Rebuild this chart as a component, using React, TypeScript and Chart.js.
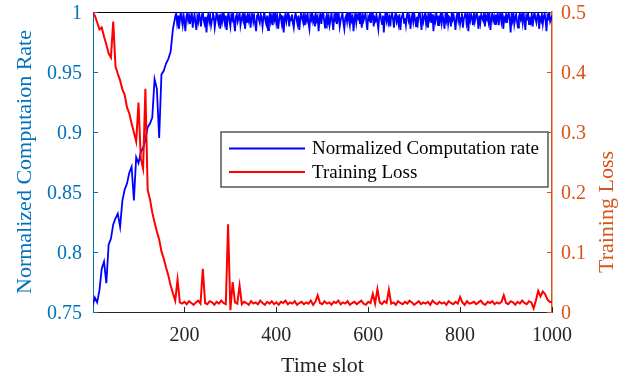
import React, { useEffect, useRef } from "react";
import { Chart, registerables } from "chart.js";

Chart.register(...registerables);

// Rise phase: time slots 0..175 sampled every 5 slots
const EARLY_STEP = 5;
const rateEarly: number[] = [
  0.755, 0.762, 0.758, 0.768, 0.786, 0.792, 0.774, 0.806, 0.811, 0.823,
  0.828, 0.832, 0.821, 0.843, 0.852, 0.857, 0.866, 0.871, 0.843, 0.879,
  0.874, 0.883, 0.887, 0.893, 0.904, 0.907, 0.912, 0.944, 0.936, 0.895,
  0.948, 0.951, 0.957, 0.961, 0.967, 0.986,
];

// Plateau phase: time slots 180..1000 sampled every 2 slots
const PLATEAU_START = 180;
const PLATEAU_STEP = 2;
const ratePlateau: number[] = [
  0.996, 0.999, 0.991, 0.997, 0.986, 0.993, 1.000, 0.994, 0.989, 0.998,
  0.992, 0.984, 0.996, 0.999, 0.993, 0.997, 0.990, 0.995, 1.000, 0.987,
  0.994, 0.998, 0.991, 0.985, 0.996, 0.992, 0.999, 0.994, 0.988, 0.997,
  1.000, 0.993, 0.990, 0.996, 0.983, 0.995, 0.998, 0.992, 0.997, 0.989,
  0.994, 0.999, 0.996, 0.987, 0.993, 1.000, 0.995, 0.991, 0.998, 0.986,
  0.996, 0.992, 0.999, 0.994, 0.990, 0.997, 0.985, 0.995, 1.000, 0.993,
  0.988, 0.997, 0.994, 0.999, 0.991, 0.984, 0.996, 0.998, 0.992, 0.995,
  1.000, 0.989, 0.994, 0.997, 0.993, 0.999, 0.986, 0.995, 0.991, 0.998,
  0.993, 0.997, 0.987, 0.995, 1.000, 0.992, 0.996, 0.990, 0.984, 0.997,
  0.999, 0.994, 0.991, 0.998, 0.995, 0.988, 0.996, 1.000, 0.993, 0.990,
  0.997, 0.985, 0.994, 0.999, 0.992, 0.996, 0.989, 0.998, 0.994, 1.000,
  0.991, 0.996, 0.986, 0.993, 0.998, 0.995, 0.990, 0.997, 0.983, 0.994,
  0.999, 0.992, 0.996, 1.000, 0.988, 0.995, 0.993, 0.998, 0.991, 0.987,
  0.996, 0.999, 0.994, 0.990, 0.997, 0.985, 0.993, 1.000, 0.995, 0.992,
  0.998, 0.989, 0.996, 0.993, 0.999, 0.991, 0.986, 0.997, 0.994, 1.000,
  0.992, 0.995, 0.988, 0.998, 0.993, 0.996, 0.984, 0.994, 0.999, 0.990,
  0.997, 1.000, 0.993, 0.987, 0.995, 0.998, 0.991, 0.996, 0.989, 0.994,
  0.999, 0.992, 0.985, 0.997, 0.994, 1.000, 0.990, 0.995, 0.998, 0.988,
  0.993, 0.996, 0.999, 0.991, 0.986, 0.995, 0.997, 0.992, 1.000, 0.994,
  0.989, 0.998, 0.993, 0.996, 0.984, 0.994, 0.999, 0.991, 0.997, 0.995,
  1.000, 0.990, 0.995, 0.987, 0.998, 0.993, 0.996, 0.999, 0.992, 0.985,
  0.996, 0.994, 0.999, 0.991, 0.997, 1.000, 0.988, 0.995, 0.993, 0.998,
  0.992, 0.986, 0.996, 0.999, 0.994, 0.990, 0.997, 0.983, 0.995, 1.000,
  0.993, 0.998, 0.991, 0.995, 0.988, 0.997, 0.999, 0.994, 0.987, 0.996,
  1.000, 0.992, 0.995, 0.990, 0.998, 0.985, 0.994, 0.997, 0.999, 0.991,
  0.995, 0.989, 0.997, 1.000, 0.993, 0.996, 0.986, 0.994, 0.998, 0.992,
  0.999, 0.994, 0.988, 0.996, 0.991, 0.998, 1.000, 0.993, 0.985, 0.997,
  0.992, 0.996, 0.999, 0.990, 0.995, 0.987, 0.997, 0.994, 1.000, 0.991,
  0.998, 0.984, 0.995, 0.992, 0.999, 0.996, 0.989, 0.997, 0.993, 1.000,
  0.991, 0.997, 0.994, 0.986, 0.998, 0.993, 0.999, 0.990, 0.996, 0.995,
  0.988, 1.000, 0.994, 0.997, 0.992, 0.985, 0.996, 0.999, 0.993, 0.998,
  0.990, 0.995, 0.999, 0.987, 0.994, 0.997, 1.000, 0.991, 0.996, 0.984,
  0.997, 0.993, 0.998, 0.995, 0.989, 0.999, 0.992, 0.996, 1.000, 0.994,
  0.986, 0.997, 0.991, 0.998, 0.995, 0.993, 0.999, 0.988, 0.996, 0.994,
  1.000, 0.992, 0.997, 0.985, 0.995, 0.999, 0.993, 0.996, 0.990, 0.998,
  0.994, 0.999, 0.989, 0.996, 1.000, 0.992, 0.997, 0.986, 0.995, 0.993,
  0.998, 0.991, 0.996, 0.999, 0.994, 0.983, 0.997, 0.993, 1.000, 0.990,
  0.995, 0.998, 0.992, 0.987, 0.996, 0.999, 0.994, 0.997, 0.991, 1.000,
  0.993, 0.985, 0.997, 0.995, 0.999, 0.990, 0.996, 0.992, 0.998, 0.988,
  0.996, 1.000, 0.994, 0.991, 0.997, 0.999, 0.986, 0.995, 0.993, 0.998,
  0.990, 0.996, 0.999, 0.993, 0.984, 0.997, 0.995, 1.000, 0.992, 0.994,
  0.997,
];

// Training loss (right axis), time slots 0..1000 sampled every 5 slots
const LOSS_STEP = 5;
const trainingLoss: number[] = [
  0.500, 0.494, 0.483, 0.471, 0.474, 0.459, 0.446, 0.431, 0.424, 0.484,
  0.409, 0.397, 0.386, 0.371, 0.362, 0.341, 0.331, 0.314, 0.299, 0.284,
  0.349, 0.256, 0.239, 0.372, 0.203, 0.188, 0.166, 0.149, 0.134, 0.121,
  0.101, 0.089, 0.074, 0.061, 0.044, 0.031, 0.019, 0.054, 0.016, 0.014,
  0.017, 0.013, 0.018, 0.015, 0.012, 0.016, 0.019, 0.014, 0.072, 0.015,
  0.013, 0.018, 0.016, 0.012, 0.017, 0.014, 0.019, 0.015, 0.013, 0.146,
  0.003, 0.050, 0.016, 0.014, 0.044, 0.013, 0.017, 0.015, 0.012, 0.018,
  0.014, 0.016, 0.013, 0.019, 0.015, 0.012, 0.017, 0.014, 0.018, 0.013,
  0.016, 0.012, 0.017, 0.015, 0.019, 0.013, 0.016, 0.014, 0.018, 0.012,
  0.015, 0.017, 0.013, 0.016, 0.014, 0.019, 0.012, 0.017, 0.028, 0.015,
  0.013, 0.018, 0.014, 0.016, 0.012, 0.017, 0.015, 0.019, 0.013, 0.016,
  0.014, 0.018, 0.012, 0.015, 0.017, 0.013, 0.016, 0.019, 0.014, 0.012,
  0.017, 0.015, 0.030, 0.014, 0.038, 0.016, 0.013, 0.018, 0.015, 0.037,
  0.014, 0.016, 0.012, 0.018, 0.015, 0.013, 0.017, 0.014, 0.019, 0.016,
  0.012, 0.015, 0.018, 0.013, 0.016, 0.014, 0.017, 0.012, 0.019, 0.015,
  0.013, 0.017, 0.014, 0.016, 0.012, 0.018, 0.015, 0.013, 0.017, 0.014,
  0.025, 0.016, 0.012, 0.018, 0.014, 0.015, 0.017, 0.013, 0.016, 0.019,
  0.014, 0.012, 0.017, 0.015, 0.018, 0.013, 0.016, 0.014, 0.017, 0.028,
  0.015, 0.013, 0.018, 0.016, 0.012, 0.017, 0.014, 0.019, 0.015, 0.013,
  0.018, 0.016, 0.006, 0.019, 0.035, 0.026, 0.034, 0.030, 0.021, 0.017,
  0.016,
];

const xTicks = [200, 400, 600, 800, 1000];
const xTickLabels = ["200", "400", "600", "800", "1000"];
const leftTicks = [0.75, 0.8, 0.85, 0.9, 0.95, 1];
const leftTickLabels = ["0.75", "0.8", "0.85", "0.9", "0.95", "1"];
const rightTicks = [0, 0.1, 0.2, 0.3, 0.4, 0.5];
const rightTickLabels = ["0", "0.1", "0.2", "0.3", "0.4", "0.5"];

const seriesNames = ["Normalized Computation rate", "Training Loss"];
const leftTitle = "Normalized Computaion Rate";
const rightTitle = "Training Loss";
const xTitle = "Time slot";

const LEFT_COLOR = "#0072BD";
const RIGHT_COLOR = "#D95319";
const AXIS_COLOR = "#262626";
const BLUE = "#0000FF";
const RED = "#FF0000";
const FONT = `"Liberation Serif", "Times New Roman", serif`;

const decorPlugin = {
  id: "decor",
  beforeDatasetsDraw(chart: any) {
    const { ctx, chartArea, scales } = chart;
    const { left, right, top, bottom } = chartArea;
    ctx.save();
    ctx.lineWidth = 1;
    ctx.strokeStyle = "#000000";
    ctx.beginPath();
    ctx.moveTo(left, top + 0.5);
    ctx.lineTo(right, top + 0.5);
    ctx.stroke();
    const tl = 5;
    ctx.strokeStyle = AXIS_COLOR;
    ctx.beginPath();
    xTicks.forEach((v) => {
      const px = Math.round(scales.x.getPixelForValue(v)) + 0.5;
      ctx.moveTo(px, bottom);
      ctx.lineTo(px, bottom - tl);
    });
    ctx.stroke();
    ctx.strokeStyle = LEFT_COLOR;
    ctx.beginPath();
    leftTicks.forEach((v) => {
      const py = Math.round(scales.y.getPixelForValue(v)) + 0.5;
      ctx.moveTo(left, py);
      ctx.lineTo(left + tl, py);
    });
    ctx.stroke();
    ctx.strokeStyle = RIGHT_COLOR;
    ctx.beginPath();
    rightTicks.forEach((v) => {
      const py = Math.round(scales.y1.getPixelForValue(v)) + 0.5;
      ctx.moveTo(right, py);
      ctx.lineTo(right - tl, py);
    });
    ctx.stroke();
    ctx.restore();
  },
  afterDraw(chart: any) {
    const { ctx, chartArea, scales } = chart;
    ctx.save();

    // tick labels
    ctx.font = `20px ${FONT}`;
    ctx.textBaseline = "alphabetic";
    ctx.fillStyle = AXIS_COLOR;
    ctx.textAlign = "center";
    xTicks.forEach((v, i) => {
      ctx.fillText(xTickLabels[i], scales.x.getPixelForValue(v), 341);
    });
    ctx.fillStyle = LEFT_COLOR;
    ctx.textAlign = "right";
    leftTicks.forEach((v, i) => {
      ctx.fillText(leftTickLabels[i], 82, scales.y.getPixelForValue(v) + 7);
    });
    ctx.fillStyle = RIGHT_COLOR;
    ctx.textAlign = "left";
    rightTicks.forEach((v, i) => {
      ctx.fillText(rightTickLabels[i], 561, scales.y1.getPixelForValue(v) + 7);
    });

    // axis titles
    ctx.font = `22px ${FONT}`;
    ctx.textAlign = "center";
    ctx.textBaseline = "middle";
    ctx.fillStyle = LEFT_COLOR;
    ctx.save();
    ctx.translate(25, (chartArea.top + chartArea.bottom) / 2);
    ctx.rotate(-Math.PI / 2);
    ctx.fillText(leftTitle, 0, 0);
    ctx.restore();
    ctx.fillStyle = RIGHT_COLOR;
    ctx.save();
    ctx.translate(607, 212);
    ctx.rotate(-Math.PI / 2);
    ctx.fillText(rightTitle, 0, 0);
    ctx.restore();
    ctx.fillStyle = AXIS_COLOR;
    ctx.textBaseline = "alphabetic";
    ctx.fillText(xTitle, (chartArea.left + chartArea.right) / 2, 372);

    // legend
    const bx = 221, by = 132, bw = 327, bh = 55;
    ctx.fillStyle = "#FFFFFF";
    ctx.fillRect(bx, by, bw, bh);
    ctx.strokeStyle = "#555555";
    ctx.lineWidth = 1.5;
    ctx.strokeRect(bx, by, bw, bh);
    ctx.lineWidth = 2;
    const rows = [
      { y: 148.5, color: BLUE, text: seriesNames[0] },
      { y: 172, color: RED, text: seriesNames[1] },
    ];
    ctx.font = `19px ${FONT}`;
    ctx.textAlign = "left";
    ctx.textBaseline = "middle";
    rows.forEach((r) => {
      ctx.strokeStyle = r.color;
      ctx.beginPath();
      ctx.moveTo(229, r.y);
      ctx.lineTo(305, r.y);
      ctx.stroke();
      ctx.fillStyle = "#000000";
      ctx.fillText(r.text, 312, r.y + 1);
    });
    ctx.restore();
  },
};

export default function App() {
  const canvasRef = useRef<HTMLCanvasElement | null>(null);

  useEffect(() => {
    const canvas = canvasRef.current;
    if (!canvas) return;
    const blueData = [
      ...rateEarly.map((v, i) => ({ x: i * EARLY_STEP, y: v })),
      ...ratePlateau.map((v, i) => ({ x: PLATEAU_START + i * PLATEAU_STEP, y: v })),
    ];
    const redData = trainingLoss.map((v, i) => ({ x: i * LOSS_STEP, y: v }));
    const chart = new Chart(canvas, {
      type: "line",
      data: {
        datasets: [
          {
            label: seriesNames[0],
            data: blueData,
            yAxisID: "y",
            borderColor: BLUE,
            borderWidth: 1.8,
            pointRadius: 0,
            tension: 0,
            order: 1,
          },
          {
            label: seriesNames[1],
            data: redData,
            yAxisID: "y1",
            borderColor: RED,
            borderWidth: 2,
            pointRadius: 0,
            tension: 0,
            order: 0,
          },
        ],
      },
      options: {
        responsive: false,
        animation: false,
        devicePixelRatio: 1,
        layout: { padding: { top: 12, left: 0, right: 0, bottom: 0 } },
        plugins: {
          legend: { display: false },
          tooltip: { enabled: false },
        },
        scales: {
          x: {
            type: "linear",
            min: 1,
            max: 1000,
            afterBuildTicks: (s: any) => {
              s.ticks = xTicks.map((v) => ({ value: v }));
            },
            afterFit: (s: any) => {
              s.height = 65;
            },
            ticks: { display: false },
            grid: { display: false, drawTicks: false },
            border: { display: true, color: AXIS_COLOR, width: 1 },
          },
          y: {
            type: "linear",
            position: "left",
            min: 0.75,
            max: 1,
            afterBuildTicks: (s: any) => {
              s.ticks = leftTicks.map((v) => ({ value: v }));
            },
            afterFit: (s: any) => {
              s.width = 93;
            },
            ticks: { display: false },
            grid: { display: false, drawTicks: false },
            border: { display: true, color: LEFT_COLOR, width: 1 },
          },
          y1: {
            type: "linear",
            position: "right",
            min: 0,
            max: 0.5,
            afterBuildTicks: (s: any) => {
              s.ticks = rightTicks.map((v) => ({ value: v }));
            },
            afterFit: (s: any) => {
              s.width = 89;
            },
            ticks: { display: false },
            grid: { display: false, drawTicks: false },
            border: { display: true, color: RIGHT_COLOR, width: 1.5 },
          },
        },
      },
      plugins: [decorPlugin],
    });
    return () => chart.destroy();
  }, []);

  return (
    <div style={{ position: "fixed", left: 0, top: 0, width: 641, height: 377, background: "#fff" }}>
      <canvas ref={canvasRef} width={641} height={377} />
    </div>
  );
}
